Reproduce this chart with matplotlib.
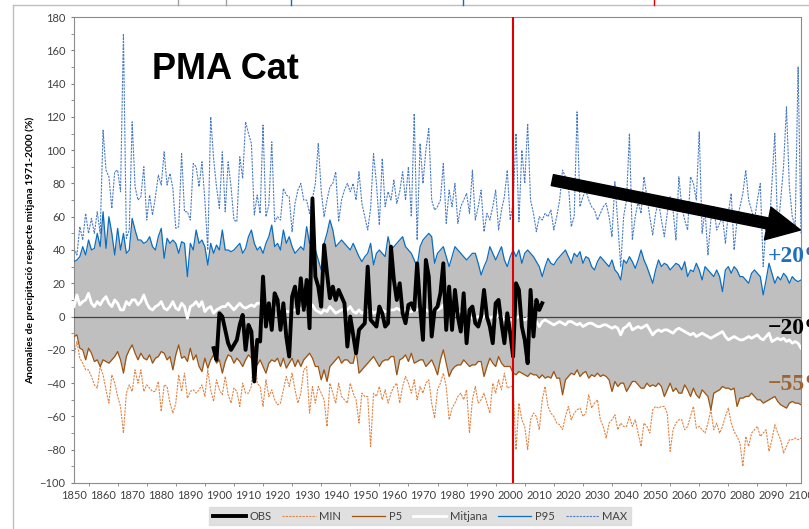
import numpy as np
import matplotlib
matplotlib.use('Agg')
import matplotlib.pyplot as plt
from matplotlib.lines import Line2D

# anys de la simulacio i de les observacions
years = np.arange(1850, 2101)
obs_years = np.arange(1898, 2012)

# MAX (valors llegits del grafic, per decades)
max_vals = [41, 37, 54, 46, 62, 50, 59, 50, 63, 50,
            112, 88, 84, 65, 87, 88, 75, 170, 47, 52,
            117, 78, 70, 72, 90, 58, 73, 61, 72, 85,
            79, 99, 79, 86, 77, 53, 54, 98, 63, 63,
            58, 92, 90, 78, 93, 70, 40, 120, 95, 78,
            65, 99, 63, 93, 78, 58, 57, 96, 83, 117,
            110, 104, 61, 73, 62, 115, 60, 67, 105, 57,
            60, 58, 77, 73, 72, 51, 68, 76, 80, 70,
            70, 62, 71, 80, 104, 76, 60, 70, 78, 80,
            87, 57, 70, 76, 80, 75, 80, 70, 87, 68,
            60, 52, 65, 98, 80, 55, 95, 66, 75, 70,
            82, 68, 75, 87, 70, 90, 60, 122, 46, 104,
            80, 100, 113, 70, 64, 66, 70, 92, 56, 76,
            66, 80, 56, 66, 70, 74, 62, 88, 58, 66,
            76, 51, 62, 58, 66, 76, 52, 64, 72, 88,
            58, 68, 110, 57, 100, 80, 116, 70, 62, 51,
            60, 58, 62, 60, 64, 52, 60, 70, 88, 84,
            80, 54, 60, 123, 66, 72, 76, 70, 66, 64,
            58, 62, 66, 68, 60, 48, 81, 56, 30, 60,
            70, 110, 46, 60, 69, 62, 84, 72, 60, 49,
            62, 69, 58, 48, 62, 72, 64, 46, 84, 66,
            58, 52, 84, 80, 70, 111, 50, 64, 37, 58,
            66, 52, 56, 60, 44, 62, 74, 40, 58, 66,
            74, 88, 70, 64, 58, 70, 80, 30, 56, 50,
            80, 110, 50, 70, 90, 126, 78, 60, 54, 150,
            50]

p95 = [33, 34, 36, 42, 37, 46, 40, 41, 50, 42,
       63, 41, 60, 50, 37, 53, 40, 50, 38, 40,
       59, 52, 46, 46, 44, 45, 48, 42, 40, 48,
       53, 35, 47, 44, 46, 44, 38, 45, 44, 24,
       44, 40, 52, 44, 46, 42, 31, 44, 38, 43,
       40, 52, 40, 40, 39, 40, 42, 44, 38, 41,
       48, 52, 44, 40, 42, 38, 44, 48, 55, 42,
       44, 40, 52, 44, 48, 42, 38, 40, 42, 40,
       54, 44, 44, 40, 34, 28, 44, 50, 58, 52,
       42, 44, 46, 44, 42, 40, 44, 40, 36, 33,
       36, 38, 44, 31, 38, 40, 38, 36, 48, 40,
       42, 44, 46, 48, 42, 40, 38, 34, 30, 42,
       46, 48, 50, 48, 32, 38, 40, 42, 36, 30,
       36, 42, 40, 38, 36, 34, 36, 38, 38, 32,
       25, 30, 34, 42, 38, 34, 38, 42, 34, 30,
       36, 40, 36, 40, 32, 38, 40, 38, 36, 33,
       30, 24, 30, 35, 32, 31, 34, 36, 38, 40,
       36, 32, 38, 36, 39, 32, 36, 35, 30, 28,
       33, 36, 34, 32, 30, 34, 28, 26, 22, 34,
       32, 36, 33, 29, 34, 40, 34, 30, 25, 20,
       28, 34, 30, 32, 31, 28, 30, 32, 31, 28,
       33, 24, 28, 27, 32, 28, 22, 30, 28, 26,
       24, 28, 24, 15, 28, 30, 26, 30, 28, 24,
       24, 22, 20, 26, 28, 26, 24, 13, 22, 32,
       26, 20, 24, 22, 26, 24, 20, 24, 22, 21,
       22]

mitjana = [6, 13, 7, 9, 10, 14, 8, 6, 9, 7,
           10, 12, 8, 6, 10, 8, 4, 4, 9, 7,
           10, 10, 7, 9, 13, 8, 5, 4, 6, 7,
           9, 5, 4, 6, 9, 5, 4, 8, 6, -1,
           6, 7, 9, 6, 9, 3, 5, 6, 2, 4,
           5, 6, 6, 8, 6, 4, 6, 8, 6, 5,
           6, 7, 6, 8, 8, 4, 5, 5, 4, 5,
           6, 4, 4, 3, 3, 4, 4, 5, 5, 4,
           6, 6, 7, 4, 3, 2, 4, 3, 6, 4,
           2, 3, 4, 5, 4, 6, 3, 2, 4, 2,
           3, 4, 4, 2, 3, 2, 4, 3, 3, 4,
           4, 5, 4, 3, 4, 3, 3, 4, 4, 5,
           5, 4, 3, 4, 4, 4, 5, 7, -2, 1,
           1, 2, 3, 3, 1, -2, 0, -1, -1, 0,
           -2, 0, 1, -1, 0, -1, 1, 1, -2, -1,
           -2, -2, -1, 0, -1, -2, -1, -2, -1, -3,
           -6, -3, -2, -3, -4, -5, -4, -3, -4, -5,
           -3, -3, -4, -5, -4, -6, -5, -4, -4, -5,
           -6, -6, -5, -5, -6, -7, -6, -7, -11, -7,
           -6, -4, -8, -7, -6, -7, -6, -5, -8, -11,
           -9, -8, -9, -8, -8, -9, -10, -8, -7, -8,
           -9, -10, -11, -10, -12, -11, -10, -11, -12, -13,
           -12, -11, -10, -9, -12, -14, -13, -12, -13, -14,
           -14, -13, -12, -13, -12, -11, -13, -14, -12, -10,
           -15, -14, -13, -14, -13, -15, -14, -16, -15, -16,
           -19]

p5 = [-12, -11, -19, -20, -26, -19, -22, -27, -26, -30,
      -26, -27, -28, -26, -24, -21, -26, -34, -24, -20,
      -17, -22, -26, -22, -25, -26, -23, -28, -25, -24,
      -21, -22, -26, -24, -32, -23, -17, -25, -24, -27,
      -19, -26, -23, -30, -33, -25, -31, -26, -23, -28,
      -26, -34, -27, -23, -24, -28, -25, -27, -30, -26,
      -23, -25, -18, -29, -26, -30, -34, -28, -26, -27,
      -25, -30, -25, -31, -28, -25, -30, -26, -30, -26,
      -24, -22, -25, -30, -30, -38, -32, -39, -30, -28,
      -26, -24, -28, -26, -26, -28, -28, -20, -34, -32,
      -30, -28, -26, -24, -27, -30, -27, -26, -26, -24,
      -24, -35, -26, -25, -23, -27, -22, -28, -27, -26,
      -26, -30, -28, -26, -30, -35, -26, -20, -28, -36,
      -32, -30, -29, -29, -26, -28, -30, -29, -29, -27,
      -27, -36, -30, -25, -28, -30, -24, -28, -30, -30,
      -30, -34, -35, -33, -34, -35, -36, -34, -35, -35,
      -37, -35, -37, -36, -37, -33, -37, -37, -47, -38,
      -36, -34, -35, -32, -36, -34, -33, -37, -35, -36,
      -34, -36, -35, -36, -38, -45, -39, -42, -40, -40,
      -45, -42, -39, -39, -41, -43, -43, -40, -42, -41,
      -42, -40, -42, -48, -44, -40, -45, -43, -46, -46,
      -41, -44, -48, -43, -47, -49, -44, -46, -48, -56,
      -46, -45, -44, -42, -43, -43, -44, -43, -54, -49,
      -49, -48, -48, -46, -48, -50, -50, -52, -51, -50,
      -49, -48, -51, -53, -54, -55, -52, -51, -52, -52,
      -53]

min_vals = [-24, -15, -25, -28, -32, -32, -36, -41, -43, -30,
            -35, -44, -52, -35, -40, -48, -54, -70, -46, -41,
            -45, -32, -40, -32, -45, -41, -43, -45, -45, -39,
            -57, -41, -42, -52, -58, -52, -35, -45, -34, -49,
            -45, -44, -46, -44, -41, -48, -32, -44, -51, -38,
            -44, -47, -36, -47, -52, -43, -45, -54, -40, -46,
            -46, -42, -19, -40, -42, -54, -38, -48, -44, -50,
            -53, -52, -44, -36, -42, -34, -44, -52, -46, -32,
            -30, -58, -42, -52, -42, -46, -50, -66, -40, -46,
            -52, -40, -48, -50, -52, -40, -46, -50, -64, -46,
            -48, -48, -78, -46, -48, -42, -50, -44, -52, -46,
            -42, -40, -52, -42, -36, -40, -46, -38, -50, -42,
            -46, -40, -38, -52, -61, -44, -40, -34, -42, -62,
            -55, -52, -48, -46, -50, -44, -70, -50, -42, -52,
            -50, -46, -52, -58, -40, -46, -38, -44, -34, -43,
            -42, -42, -80, -52, -62, -66, -80, -62, -58, -60,
            -68, -50, -42, -54, -58, -60, -64, -65, -68, -60,
            -54, -62, -58, -56, -55, -60, -58, -47, -55, -52,
            -50, -62, -66, -73, -64, -62, -59, -68, -64, -66,
            -66, -60, -66, -62, -70, -78, -64, -66, -70, -56,
            -54, -55, -54, -54, -58, -81, -68, -64, -62, -62,
            -68, -66, -60, -54, -67, -66, -68, -70, -64, -56,
            -68, -64, -70, -66, -60, -55, -64, -69, -72, -76,
            -90, -72, -78, -70, -68, -66, -72, -70, -68, -81,
            -74, -65, -70, -74, -82, -78, -74, -74, -73, -74,
            -73]

obs = [-19, -26,
       2, 0, -8, -16, -20, -17, -14, -5, 1, -20,
       -5, -9, -39, -14, -15, 24, -6, 8, -8, 14,
       10, -8, 8, -12, -24, 12, 18, 2, 23, 4,
       22, -7, 71, 24, 18, 6, 43, 26, 11, 18,
       10, 16, 12, 8, -18, 0, -11, -22, -8, -6,
       -4, 30, -2, -4, -6, 6, 2, -6, -4, 42,
       22, 10, 20, 2, -4, 7, 8, 4, 32, 6,
       -14, 34, 24, -12, 4, 6, 14, 32, -8, 18,
       -8, 16, 0, -9, 14, -16, 4, 6, -4, -6,
       0, 16, 0, -6, -16, 8, 10, -4, -16, 2,
       -10, -24, 20, 16, -6, -14, -28, 16, -12, 10,
       4, 8]

W, H = 809, 529
fig = plt.figure(figsize=(W / 100, H / 100), dpi=100)
ax = fig.add_axes([74 / W, 1 - 483 / H, 727 / W, 466 / H])

ax.fill_between(years, p5, p95, color='#BFBFBF', lw=0, zorder=1)
l_max, = ax.plot(years, max_vals, color='#4A7CC6', lw=0.8, ls=(0, (2, 1)), zorder=2)
l_min, = ax.plot(years, min_vals, color='#E08545', lw=0.8, ls=(0, (2, 1)), zorder=2)
l_p5, = ax.plot(years, p5, color='#9E5310', lw=0.9, zorder=3)
l_p95, = ax.plot(years, p95, color='#0A6FC2', lw=0.9, zorder=3)
ax.axhline(0, color='#404040', lw=0.9, zorder=4)
l_mit, = ax.plot(years, mitjana, color='white', lw=2.0, zorder=5)
l_obs, = ax.plot(obs_years, obs, color='black', lw=2.8, zorder=6)
ax.axvline(2001, color='#E00000', lw=1.5, zorder=7)

# fletxa de tendencia
ax.annotate('', xy=(2099.8, 52), xytext=(2014.5, 82),
            arrowprops=dict(arrowstyle='simple,head_length=2.4,head_width=2.4,tail_width=0.8',
                            color='black', mutation_scale=10, shrinkA=0, shrinkB=0),
            zorder=8)

ax.text(1876.9, 142.8, 'PMA Cat', fontsize=26, fontweight='bold',
        family='Liberation Sans', va='baseline', zorder=9)

ax.set_xlim(1850, 2100)
ax.set_ylim(-100, 180)
ax.set_xticks(range(1850, 2101, 10))
ax.set_xticks(range(1855, 2100, 10), minor=True)
ax.set_yticks(range(-100, 181, 20))
ax.set_yticks(range(-90, 180, 20), minor=True)
ax.tick_params(axis='x', which='major', length=0, pad=5, labelsize=8, labelcolor='#404040')
ax.tick_params(axis='x', which='minor', length=2.2, direction='out', color='#808080')
ax.tick_params(axis='y', which='both', length=2.2, direction='out', color='#808080',
               pad=4, labelsize=8, labelcolor='#404040')
for lab in ax.get_xticklabels() + ax.get_yticklabels():
    lab.set_family(['Lato', 'DejaVu Sans'])
for s in ax.spines.values():
    s.set_color('#8C8C8C')
    s.set_linewidth(0.8)

ax.set_ylabel('Anomalies de precipitació respecte mitjana 1971-2000 (%)',
              fontsize=7.4, fontweight='bold', family=['Lato', 'DejaVu Sans'])
ax.yaxis.set_label_coords(-39 / 727, 0.5)

# etiquetes de canvi a la dreta (tallades per la vora)
fig.text(768 / W, 1 - 256 / H, '+20%', color='#1F6FBF', fontsize=17, fontweight='bold',
         family='Liberation Serif', va='center')
fig.text(768 / W, 1 - 328 / H, '\u221220%', color='black', fontsize=17, fontweight='bold',
         family='Liberation Serif', va='center')
fig.text(768 / W, 1 - 385 / H, '\u221255%', color='#A0632F', fontsize=17, fontweight='bold',
         family='Liberation Serif', va='center')

# marc de la diapositiva
fig.add_artist(Line2D([13 / W, 13 / W], [0, 1 - 5 / H], transform=fig.transFigure,
                      color='#BFBFBF', lw=1))
fig.add_artist(Line2D([13 / W, 1], [1 - 5 / H, 1 - 5 / H], transform=fig.transFigure,
                      color='#BFBFBF', lw=1))
for xp, col in [(178, '#A0A0A0'), (226, '#A0A0A0'), (291, '#0A6FC2'),
                (463, '#0A6FC2'), (654, '#E00000')]:
    fig.add_artist(Line2D([xp / W, xp / W], [1, 1 - 5 / H], transform=fig.transFigure,
                          color=col, lw=1))

leg = fig.legend([l_obs, l_min, l_p5, l_mit, l_p95, l_max],
                 ['OBS', 'MIN', 'P5', 'Mitjana', 'P95', 'MAX'],
                 loc='center', bbox_to_anchor=(420 / W, 1 - 516 / H), ncol=6,
                 handlelength=3, handletextpad=0.3, columnspacing=1.0,
                 borderpad=0.35, fancybox=False, prop={'family': ['Lato', 'DejaVu Sans'], 'size': 8})
leg.get_frame().set_facecolor('#D9D9D9')
leg.get_frame().set_edgecolor('#D9D9D9')
for t in leg.get_texts():
    t.set_color('#404040')

fig.savefig('out.png', dpi=100)
